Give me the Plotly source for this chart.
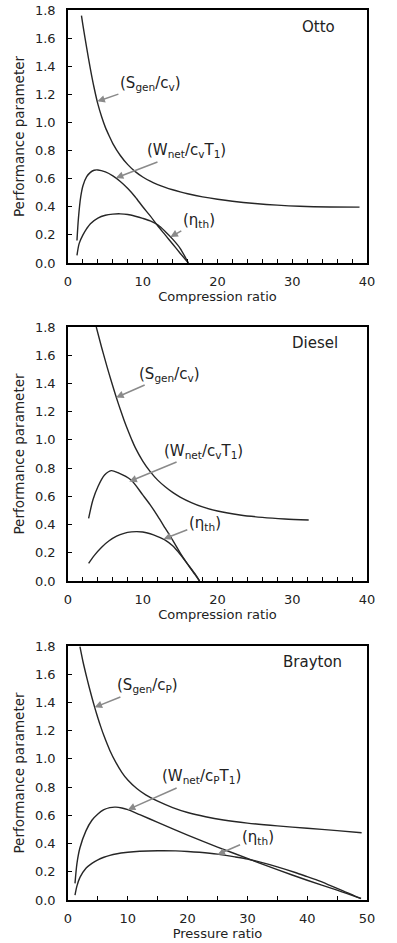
import plotly.graph_objects as go

# ---------------- Otto ----------------
otto_s_x = [1.8, 2.0, 2.5, 3.0, 3.5, 4.0, 4.5, 5.0, 5.5, 6.0, 7.0, 8.0, 9.0, 10.0, 11.0, 12.0, 13.0, 14.0, 15.0, 16.0, 18.0, 20.0, 22.0, 25.0, 28.0, 31.0, 35.0, 39.0]
otto_s_y = [1.76, 1.69, 1.53, 1.38, 1.245, 1.13, 1.04, 0.965, 0.905, 0.85, 0.765, 0.70, 0.65, 0.612, 0.582, 0.558, 0.538, 0.521, 0.506, 0.493, 0.471, 0.454, 0.44, 0.424, 0.412, 0.404, 0.399, 0.398]
otto_w_x = [1.2, 1.4, 1.7, 2.0, 2.5, 3.0, 3.5, 4.0, 5.0, 6.0, 7.0, 8.0, 9.0, 10.0, 11.0, 12.0, 13.0, 14.0, 15.0, 16.1]
otto_w_y = [0.16, 0.32, 0.47, 0.55, 0.615, 0.645, 0.66, 0.662, 0.648, 0.62, 0.58, 0.53, 0.47, 0.40, 0.335, 0.265, 0.20, 0.135, 0.07, 0.0]
otto_e_x = [1.2, 1.5, 2.0, 2.5, 3.0, 4.0, 5.0, 6.0, 7.0, 8.0, 9.0, 10.0, 11.0, 12.0, 13.0, 14.0, 15.0, 16.1]
otto_e_y = [0.055, 0.14, 0.20, 0.245, 0.28, 0.32, 0.34, 0.348, 0.35, 0.345, 0.333, 0.318, 0.30, 0.272, 0.225, 0.17, 0.105, 0.0]

# ---------------- Diesel ----------------
dsl_s_x = [3.78, 4.5, 5.0, 5.5, 6.0, 6.5, 7.0, 7.5, 8.0, 8.5, 9.0, 10.0, 11.0, 12.0, 13.0, 14.0, 15.0, 16.5, 18.0, 20.0, 23.0, 26.0, 29.0, 32.2]
dsl_s_y = [1.80, 1.655, 1.56, 1.468, 1.38, 1.295, 1.215, 1.14, 1.07, 1.005, 0.945, 0.85, 0.775, 0.715, 0.668, 0.628, 0.595, 0.556, 0.525, 0.496, 0.468, 0.451, 0.44, 0.432]
dsl_w_x = [2.76, 3.33, 4.0, 4.89, 5.78, 6.67, 8.44, 10.0, 11.0, 12.0, 13.0, 14.0, 15.0, 16.0, 17.0, 17.6]
dsl_w_y = [0.444, 0.574, 0.668, 0.751, 0.782, 0.768, 0.716, 0.61, 0.54, 0.46, 0.375, 0.29, 0.20, 0.12, 0.045, 0.0]
dsl_e_x = [2.76, 3.5, 4.5, 5.5, 6.5, 7.5, 8.5, 9.2, 10.0, 11.0, 12.0, 13.0, 14.0, 15.0, 16.0, 17.0, 17.6]
dsl_e_y = [0.125, 0.18, 0.24, 0.285, 0.318, 0.338, 0.348, 0.35, 0.347, 0.335, 0.315, 0.29, 0.25, 0.19, 0.12, 0.05, 0.0]

# ---------------- Brayton ----------------
bry_s_x = [2.0, 2.5, 3.0, 3.5, 4.0, 4.5, 5.0, 5.5, 6.0, 7.0, 8.0, 9.0, 10.0, 11.5, 13.0, 15.0, 17.5, 20.0, 23.0, 26.0, 30.0, 35.0, 40.0, 45.0, 49.1]
bry_s_y = [1.795, 1.69, 1.60, 1.515, 1.435, 1.36, 1.29, 1.225, 1.165, 1.06, 0.975, 0.905, 0.85, 0.79, 0.745, 0.70, 0.655, 0.62, 0.59, 0.567, 0.545, 0.525, 0.508, 0.492, 0.477]
bry_w_x = [1.17, 1.5, 2.0, 3.0, 4.0, 5.0, 6.0, 7.0, 8.0, 9.0, 10.0, 12.0, 15.0, 20.0, 25.0, 30.0, 35.0, 40.0, 45.0, 49.0]
bry_w_y = [0.118, 0.26, 0.37, 0.49, 0.565, 0.61, 0.64, 0.655, 0.658, 0.652, 0.64, 0.605, 0.55, 0.46, 0.375, 0.295, 0.215, 0.14, 0.07, 0.01]
bry_e_x = [1.17, 1.5, 2.0, 3.0, 4.0, 5.0, 6.0, 7.0, 8.0, 10.0, 12.0, 15.0, 18.0, 20.0, 22.0, 25.0, 28.0, 30.0, 32.0, 35.0, 38.0, 40.0, 42.0, 44.0, 46.0, 48.0, 49.0]
bry_e_y = [0.035, 0.10, 0.16, 0.225, 0.26, 0.285, 0.303, 0.316, 0.326, 0.338, 0.345, 0.349, 0.348, 0.344, 0.338, 0.325, 0.305, 0.29, 0.27, 0.235, 0.195, 0.165, 0.135, 0.10, 0.065, 0.028, 0.012]

panel_names = ["Otto", "Diesel", "Brayton"]
x_titles = ["Compression ratio", "Compression ratio", "Pressure ratio"]
y_title = "Performance parameter"
x_ranges = [[0, 40], [0, 40], [0, 50]]
x_minor = [2, 2, 5]
y_domains = [[0.7157, 1.0], [0.3584, 0.6438], [0.0, 0.2854]]

s_labels = ["(S<sub>gen</sub>/c<sub>v</sub>)", "(S<sub>gen</sub>/c<sub>v</sub>)", "(S<sub>gen</sub>/c<sub>P</sub>)"]
w_labels = ["(W<sub>net</sub>/c<sub>v</sub>T<sub>1</sub>)", "(W<sub>net</sub>/c<sub>v</sub>T<sub>1</sub>)", "(W<sub>net</sub>/c<sub>P</sub>T<sub>1</sub>)"]
e_label = "(η<sub>th</sub>)"

# arrow tips and label centres (data coords)
s_tip = [(3.93, 1.15), (6.44, 1.30), (4.45, 1.365)]
s_txt = [(11.0, 1.28), (13.6, 1.467), (13.3, 1.517)]
w_tip = [(6.4, 0.605), (8.2, 0.705), (10.0, 0.64)]
w_txt = [(15.8, 0.797), (18.1, 0.921), (22.3, 0.872)]
e_tip = [(13.7, 0.185), (12.8, 0.298), (25.0, 0.322)]
e_txt = [(17.5, 0.30), (18.3, 0.411), (31.7, 0.446)]

series = [
    [(otto_s_x, otto_s_y), (otto_w_x, otto_w_y), (otto_e_x, otto_e_y)],
    [(dsl_s_x, dsl_s_y), (dsl_w_x, dsl_w_y), (dsl_e_x, dsl_e_y)],
    [(bry_s_x, bry_s_y), (bry_w_x, bry_w_y), (bry_e_x, bry_e_y)],
]

FONT = "DejaVu Sans, Verdana, sans-serif"
fig = go.Figure()
annotations = []
for i in range(3):
    sfx = "" if i == 0 else str(i + 1)
    for (xs, ys) in series[i]:
        fig.add_trace(go.Scatter(x=xs, y=ys, mode="lines",
                                 line=dict(color="#262626", width=1.4, shape="spline", smoothing=0.8),
                                 xaxis="x" + sfx, yaxis="y" + sfx, showlegend=False, hoverinfo="skip",
                                 cliponaxis=True))
    xa = dict(domain=[0, 1], range=x_ranges[i], anchor="y" + sfx, dtick=10,
              ticks="inside", ticklen=4, tickwidth=1, tickcolor="black",
              minor=dict(dtick=x_minor[i], ticks="inside", ticklen=4, tickwidth=1, tickcolor="black"),
              showline=True, linecolor="black", linewidth=1.5, mirror=True,
              showgrid=False, zeroline=False, automargin=False,
              ticklabelstandoff=6,
              tickfont=dict(family=FONT, size=13, color="#222"),
              title=dict(text=x_titles[i], font=dict(family=FONT, size=13, color="#222"), standoff=2))
    ya = dict(domain=y_domains[i], range=[0, 1.8], anchor="x" + sfx, dtick=0.2, tickformat=".1f",
              ticks="inside", ticklen=4, tickwidth=1, tickcolor="black",
              showline=True, linecolor="black", linewidth=1.5, mirror=True,
              showgrid=False, zeroline=False, automargin=False,
              ticklabelstandoff=8,
              tickfont=dict(family=FONT, size=13, color="#222"),
              title=dict(text=y_title, font=dict(family=FONT, size=13.5, color="#222"), standoff=7))
    fig.layout["xaxis" + sfx] = xa
    fig.layout["yaxis" + sfx] = ya

    xr = "x" + sfx
    yr = "y" + sfx
    annotations.append(dict(text=panel_names[i], xref=xr + " domain", yref=yr + " domain",
                            x=[0.898, 0.91, 0.923][i], y=[0.933, 0.937, 0.937][i],
                            xanchor="right", yanchor="middle", showarrow=False,
                            font=dict(family=FONT, size=15, color="#222")))
    for lab, tip, txt in [(s_labels[i], s_tip[i], s_txt[i]),
                          (w_labels[i], w_tip[i], w_txt[i]),
                          (e_label, e_tip[i], e_txt[i])]:
        annotations.append(dict(text=lab, xref=xr, yref=yr, x=tip[0], y=tip[1],
                                axref=xr, ayref=yr, ax=txt[0], ay=txt[1],
                                showarrow=True, arrowhead=2, arrowsize=1, arrowwidth=1.5,
                                arrowcolor="#8a8a8a", startstandoff=0, standoff=0,
                                font=dict(family=FONT, size=15, color="#222")))

fig.update_layout(width=397, height=943, autosize=False,
                  margin=dict(l=68, r=30, t=10, b=43, pad=0),
                  paper_bgcolor="white", plot_bgcolor="white",
                  annotations=annotations, showlegend=False)

fig.write_html("out.html", config={"displayModeBar": False},
               post_script="document.body.style.margin='0';")
